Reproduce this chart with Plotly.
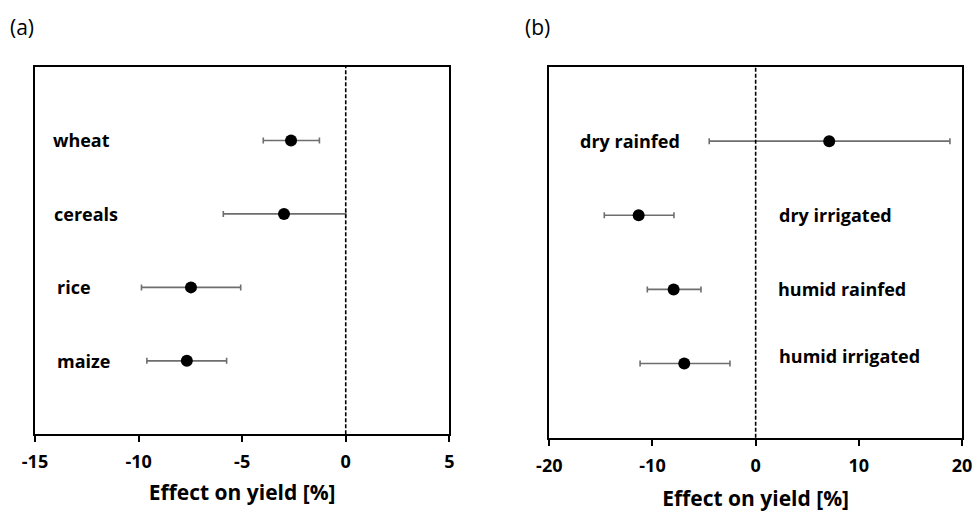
import plotly.graph_objects as go

# Panel (a): crops
crops = ["wheat", "cereals", "rice", "maize"]
crop_mean = [-2.64, -2.98, -7.47, -7.67]
crop_low = [-3.98, -5.91, -9.86, -9.60]
crop_high = [-1.27, 0.0, -5.07, -5.75]

# Panel (b): climate / water regime
regimes = ["dry rainfed", "dry irrigated", "humid rainfed", "humid irrigated"]
reg_mean = [7.13, -11.34, -7.95, -6.92]
reg_low = [-4.50, -14.67, -10.50, -11.20]
reg_high = [18.83, -7.92, -5.30, -2.49]

xticks_a = [-15, -10, -5, 0, 5]
xticks_b = [-20, -10, 0, 10, 20]
xtitle = "Effect on yield [%]"

FONT = "Open Sans"
ypos = [4, 3, 2, 1]

fig = go.Figure()

def add_panel(means, lows, highs, xa, ya):
    fig.add_trace(go.Scatter(
        x=means, y=ypos, mode="markers",
        marker=dict(size=12, color="black"),
        error_x=dict(type="data", symmetric=False,
                     array=[h - m for h, m in zip(highs, means)],
                     arrayminus=[m - l for l, m in zip(lows, means)],
                     color="#6e6e6e", thickness=1.6, width=3),
        xaxis=xa, yaxis=ya, showlegend=False, hoverinfo="x"))

add_panel(crop_mean, crop_low, crop_high, "x", "y")
add_panel(reg_mean, reg_low, reg_high, "x2", "y2")

axis_common = dict(showline=True, linecolor="black", linewidth=2, mirror=True,
                   showgrid=False, zeroline=False, automargin=False)

tickfont = dict(size=18, family=FONT, weight="bold")
titlefont = dict(size=21, family=FONT, weight="bold")

fig.update_layout(
    width=975, height=512, margin=dict(l=0, r=0, t=0, b=0),
    paper_bgcolor="white", plot_bgcolor="white",
    font=dict(family=FONT, color="black"),
    xaxis=dict(domain=[35/975, 449.3/975], range=[-15, 5], tickvals=xticks_a,
               ticktext=[str(v) for v in xticks_a],
               ticks="outside", ticklen=6, tickwidth=2, tickcolor="black",
               tickfont=tickfont, ticklabelstandoff=4,
               title=dict(text=xtitle, font=titlefont, standoff=13),
               anchor="y", **axis_common),
    yaxis=dict(domain=[1-434.3/512, 1-67/512], range=[0, 5], showticklabels=False,
               ticks="", anchor="x", **axis_common),
    xaxis2=dict(domain=[549.3/975, 962/975], range=[-20, 20], tickvals=xticks_b,
                ticktext=[str(v) for v in xticks_b],
                ticks="outside", ticklen=6.5, tickwidth=2, tickcolor="black",
                tickfont=tickfont, ticklabelstandoff=4,
                title=dict(text=xtitle, font=titlefont, standoff=20),
                anchor="y2", **axis_common),
    yaxis2=dict(domain=[1-437.7/512, 1-67/512], range=[0, 5], showticklabels=False,
                ticks="", anchor="x2", **axis_common),
)

# zero reference lines
for xa, ya in [("x", "y"), ("x2", "y2")]:
    fig.add_shape(type="line", xref=xa, yref=f"{ya} domain", x0=0, x1=0, y0=0, y1=1,
                  line=dict(color="black", width=1.6, dash="4px,2px"))

# category labels
label_x_a = [-14.25, -14.2, -14.05, -14.05]
for name, y, lx in zip(crops, ypos, label_x_a):
    fig.add_annotation(x=lx, y=y, xref="x", yref="y", text=name, showarrow=False,
                       xanchor="left", yanchor="middle",
                       font=dict(size=18, family=FONT, weight="bold"))

label_x_b = [-17.2, 2.1, 2.0, 2.1]
label_dy_b = [0, 0, 0, 0.1]
for name, y, lx, dy in zip(regimes, ypos, label_x_b, label_dy_b):
    fig.add_annotation(x=lx, y=y + dy, xref="x2", yref="y2", text=name, showarrow=False,
                       xanchor="left", yanchor="middle",
                       font=dict(size=18, family=FONT, weight="bold"))

# panel letters
fig.add_annotation(x=8/975, y=1-27/512, xref="paper", yref="paper", text="(a)",
                   showarrow=False, xanchor="left", yanchor="middle",
                   font=dict(size=21, family=FONT))
fig.add_annotation(x=523/975, y=1-27/512, xref="paper", yref="paper", text="(b)",
                   showarrow=False, xanchor="left", yanchor="middle",
                   font=dict(size=21, family=FONT))

fig.write_html("out.html", config={"displayModeBar": False},
               post_script="document.body.style.margin='0px';")
